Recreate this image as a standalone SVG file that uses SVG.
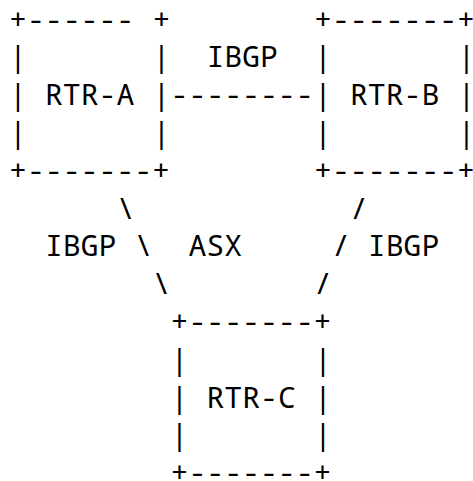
<svg xmlns="http://www.w3.org/2000/svg" width="473" height="481" viewBox="0 0 473 481">
<style>
text{font-family:"Noto Sans Mono","DejaVu Sans Mono","Liberation Mono",monospace;font-size:29.8px;fill:#000;white-space:pre}
</style>
<rect width="473" height="481" fill="#fff"/>
<g id="rtr-a">
<text x="9" y="29.5">+------</text><text x="152.5" y="29.5">+</text>
<text x="9" y="67.3">|</text><text x="152.5" y="67.3">|</text>
<text x="9" y="105.1">|</text><text x="44.9" y="105.1">RTR-A</text><text x="152.5" y="105.1">|</text>
<text x="9" y="142.9">|</text><text x="152.5" y="142.9">|</text>
<text x="9" y="180.7">+-------+</text>
</g>
<g id="rtr-b">
<text x="314" y="29.5">+-------+</text>
<text x="314" y="67.3">|</text><text x="457.5" y="67.3">|</text>
<text x="314" y="105.1">|</text><text x="349.9" y="105.1">RTR-B</text><text x="457.5" y="105.1">|</text>
<text x="314" y="142.9">|</text><text x="457.5" y="142.9">|</text>
<text x="314" y="180.7">+-------+</text>
</g>
<g id="rtr-c">
<text x="170.5" y="331.9">+-------+</text>
<text x="170.5" y="369.7">|</text><text x="314" y="369.7">|</text>
<text x="170.5" y="407.5">|</text><text x="206.4" y="407.5">RTR-C</text><text x="314" y="407.5">|</text>
<text x="170.5" y="445.3">|</text><text x="314" y="445.3">|</text>
<text x="170.5" y="483.1">+-------+</text>
</g>
<g id="connectors">
<text x="206.4" y="67.3">IBGP</text>
<text x="170.5" y="105.1">--------</text>
<text x="116.7" y="218.5">\</text>
<text x="134.6" y="256.3">\</text>
<text x="152.5" y="294.1">\</text>
<text x="349.9" y="218.5">/</text>
<text x="332" y="256.3">/</text>
<text x="314" y="294.1">/</text>
<text x="44.9" y="256.3">IBGP</text>
<text x="188.4" y="256.3">ASX</text>
<text x="367.8" y="256.3">IBGP</text>
</g>
</svg>
